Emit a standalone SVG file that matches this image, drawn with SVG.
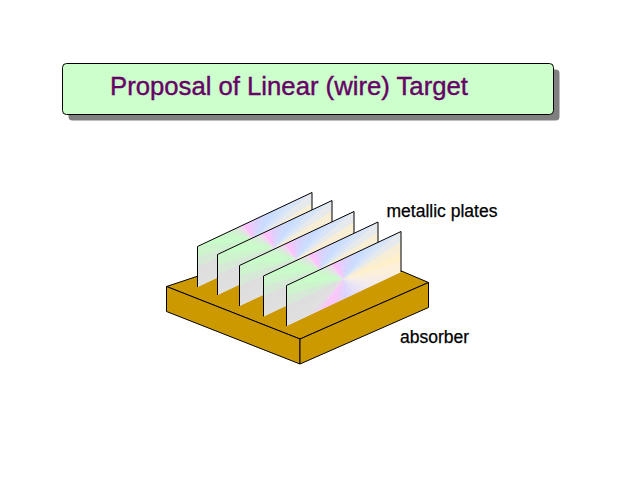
<svg xmlns="http://www.w3.org/2000/svg" xmlns:xlink="http://www.w3.org/1999/xlink" width="640" height="480" viewBox="0 0 640 480">
<style>
.w{fill:none;stroke-width:70;stroke-dasharray:10.6 349.4}
.edge{fill:none;stroke:#000;stroke-width:1;vector-effect:non-scaling-stroke}
.gold{fill:#cc9900;stroke:#000;stroke-width:1;stroke-linejoin:miter}
.lbl{font-family:"Liberation Sans",Arial,sans-serif;font-size:17.5px;fill:#000;stroke:#000;stroke-width:0.25}
</style>
<defs>
<clipPath id="pc"><rect x="0" y="0" width="114.5" height="40.5"/></clipPath>
<g id="conic">
<circle r="70" fill="#ece8f0"/>
<circle class="w" r="35" pathLength="360" stroke="#fff0cc" stroke-dashoffset="0"/>
<circle class="w" r="35" pathLength="360" stroke="#fcf0da" stroke-dashoffset="-10"/>
<circle class="w" r="35" pathLength="360" stroke="#f8eee6" stroke-dashoffset="-20"/>
<circle class="w" r="35" pathLength="360" stroke="#f2eaee" stroke-dashoffset="-30"/>
<circle class="w" r="35" pathLength="360" stroke="#ebe5f4" stroke-dashoffset="-40"/>
<circle class="w" r="35" pathLength="360" stroke="#e6e0f8" stroke-dashoffset="-50"/>
<circle class="w" r="35" pathLength="360" stroke="#e2dcfa" stroke-dashoffset="-60"/>
<circle class="w" r="35" pathLength="360" stroke="#dfd8fc" stroke-dashoffset="-70"/>
<circle class="w" r="35" pathLength="360" stroke="#dcd4fe" stroke-dashoffset="-80"/>
<circle class="w" r="35" pathLength="360" stroke="#e4d0fc" stroke-dashoffset="-90"/>
<circle class="w" r="35" pathLength="360" stroke="#ecccfa" stroke-dashoffset="-100"/>
<circle class="w" r="35" pathLength="360" stroke="#f4c8fa" stroke-dashoffset="-110"/>
<circle class="w" r="35" pathLength="360" stroke="#fcc4fc" stroke-dashoffset="-120"/>
<circle class="w" r="35" pathLength="360" stroke="#fcc8fc" stroke-dashoffset="-130"/>
<circle class="w" r="35" pathLength="360" stroke="#e9d8e9" stroke-dashoffset="-140"/>
<circle class="w" r="35" pathLength="360" stroke="#e0e0e0" stroke-dashoffset="-150"/>
<circle class="w" r="35" pathLength="360" stroke="#dfdfdf" stroke-dashoffset="-160"/>
<circle class="w" r="35" pathLength="360" stroke="#dedede" stroke-dashoffset="-170"/>
<circle class="w" r="35" pathLength="360" stroke="#d6e8d6" stroke-dashoffset="-180"/>
<circle class="w" r="35" pathLength="360" stroke="#cef4ce" stroke-dashoffset="-190"/>
<circle class="w" r="35" pathLength="360" stroke="#c8fcc8" stroke-dashoffset="-200"/>
<circle class="w" r="35" pathLength="360" stroke="#ccf8cc" stroke-dashoffset="-210"/>
<circle class="w" r="35" pathLength="360" stroke="#d8ecda" stroke-dashoffset="-220"/>
<circle class="w" r="35" pathLength="360" stroke="#eedcee" stroke-dashoffset="-230"/>
<circle class="w" r="35" pathLength="360" stroke="#ffc0ff" stroke-dashoffset="-240"/>
<circle class="w" r="35" pathLength="360" stroke="#f0c8fc" stroke-dashoffset="-250"/>
<circle class="w" r="35" pathLength="360" stroke="#e4ccfc" stroke-dashoffset="-260"/>
<circle class="w" r="35" pathLength="360" stroke="#dcd0fe" stroke-dashoffset="-270"/>
<circle class="w" r="35" pathLength="360" stroke="#d4d4ff" stroke-dashoffset="-280"/>
<circle class="w" r="35" pathLength="360" stroke="#d0d8ff" stroke-dashoffset="-290"/>
<circle class="w" r="35" pathLength="360" stroke="#ccdaff" stroke-dashoffset="-300"/>
<circle class="w" r="35" pathLength="360" stroke="#c8dcff" stroke-dashoffset="-310"/>
<circle class="w" r="35" pathLength="360" stroke="#cfe0fc" stroke-dashoffset="-320"/>
<circle class="w" r="35" pathLength="360" stroke="#d8e4f8" stroke-dashoffset="-330"/>
<circle class="w" r="35" pathLength="360" stroke="#e6eaec" stroke-dashoffset="-340"/>
<circle class="w" r="35" pathLength="360" stroke="#f8eed6" stroke-dashoffset="-350"/>
</g>
<g id="plate">
<g clip-path="url(#pc)"><use href="#conic" xlink:href="#conic" x="57" y="20.5"/></g>
<path class="edge" d="M0,40.5V0H114.5V40.5"/>
</g>
</defs>

<g id="title">
<rect x="68.5" y="69.5" width="491" height="51" rx="4" fill="#808080"/>
<rect x="62.5" y="63.5" width="491" height="51" rx="4" fill="#ccffcc" stroke="#000" stroke-width="1"/>
<text x="110" y="95" font-family="'Liberation Sans',Arial,sans-serif" font-size="25.7" fill="#660066" stroke="#660066" stroke-width="0.4">Proposal of Linear (wire) Target</text>
</g>

<g id="absorber">
<polygon class="gold" points="166.5,286.5 319,236 428.5,282.5 300,339"/>
<polygon class="gold" points="166.5,286.5 300,339 300,364 166.5,311.5"/>
<polygon class="gold" points="300,339 428.5,282.5 428.5,307.5 300,364"/>
</g>

<g id="plates">
<use id="plate1" href="#plate" xlink:href="#plate" transform="matrix(1,-0.4716,0,1,197.5,246.5)"/>
<use id="plate2" href="#plate" xlink:href="#plate" transform="matrix(1,-0.4716,0,1,217.5,254.5)"/>
<use id="plate3" href="#plate" xlink:href="#plate" transform="matrix(1,-0.4716,0,1,239.5,265.5)"/>
<use id="plate4" href="#plate" xlink:href="#plate" transform="matrix(1,-0.4716,0,1,263.5,276)"/>
<use id="plate5" href="#plate" xlink:href="#plate" transform="matrix(1,-0.4716,0,1,286.5,285.5)"/>
</g>

<g id="labels">
<text class="lbl" x="386.5" y="216.5">metallic plates</text>
<text class="lbl" x="400" y="343.3">absorber</text>
</g>
</svg>
